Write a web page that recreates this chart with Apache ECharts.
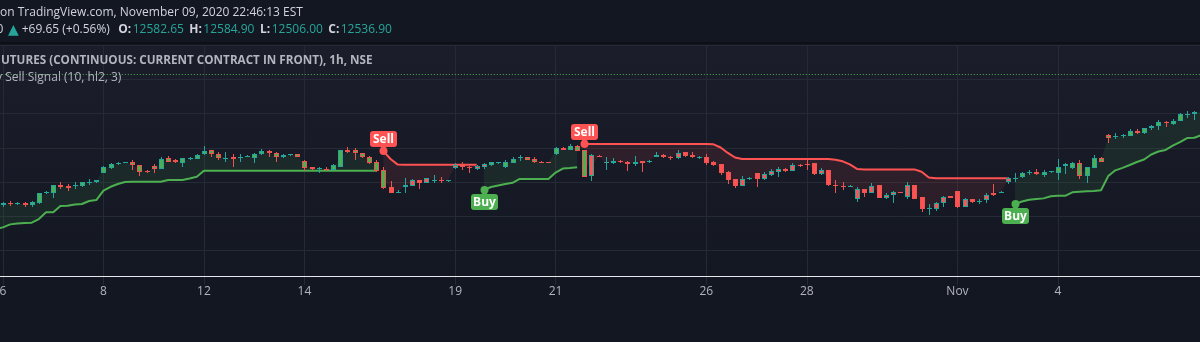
<!DOCTYPE html>
<html>
<head>
<meta charset="utf-8">
<title>NIFTY futures 1h – Buy Sell Signal</title>
<script src="https://cdn.jsdelivr.net/npm/echarts@6/dist/echarts.min.js"></script>
<style>
  html, body { margin: 0; padding: 0; background: #131722; }
  #chart { width: 1200px; height: 342px; }
</style>
</head>
<body>
<div id="chart"></div>
<script>
// ---------------------------------------------------------------------------
// Data
// ---------------------------------------------------------------------------
const _ = null;

const sessionHours = ['09:15', '10:15', '11:15', '12:15', '13:15', '14:15', '15:15'];
const openingBar = '2020-10-05 15:15';
const tradingDays = [
  '2020-10-06', '2020-10-07', '2020-10-08', '2020-10-09',
  '2020-10-12', '2020-10-13', '2020-10-14', '2020-10-15', '2020-10-16',
  '2020-10-19', '2020-10-20', '2020-10-21', '2020-10-22', '2020-10-23',
  '2020-10-26', '2020-10-27', '2020-10-28', '2020-10-29', '2020-10-30',
  '2020-11-02', '2020-11-03', '2020-11-04', '2020-11-05', '2020-11-06'
];

// Day labels shown on the time axis
const dayTickLabels = {
  '2020-10-06': '6', '2020-10-08': '8', '2020-10-12': '12', '2020-10-14': '14',
  '2020-10-19': '19', '2020-10-21': '21', '2020-10-26': '26', '2020-10-28': '28',
  '2020-11-02': 'Nov', '2020-11-04': '4'
};

// Hourly bars: [open, high, low, close]
const ohlc = [
  [11575, 11597, 11568, 11590],
  // Oct 6
  [11580, 11608, 11568, 11599], [11597, 11612, 11575, 11590], [11589, 11604, 11579, 11596],
  [11599, 11604, 11568, 11580], [11580, 11615, 11571, 11604], [11595, 11670, 11593, 11668],
  [11668, 11685, 11663, 11675],
  // Oct 7
  [11672, 11732, 11636, 11729], [11732, 11751, 11699, 11714], [11721, 11736, 11688, 11707],
  [11718, 11751, 11703, 11732], [11725, 11754, 11714, 11748], [11747, 11776, 11729, 11754],
  [11751, 11769, 11743, 11762],
  // Oct 8
  [11819, 11868, 11816, 11862], [11855, 11890, 11849, 11882], [11884, 11897, 11875, 11891],
  [11890, 11900, 11886, 11897], [11897, 11915, 11842, 11873], [11873, 11875, 11791, 11826],
  [11833, 11838, 11820, 11827],
  // Oct 9
  [11868, 11879, 11813, 11848], [11848, 11930, 11846, 11917], [11924, 11941, 11897, 11899],
  [11908, 11919, 11886, 11897], [11892, 11926, 11864, 11924], [11917, 11933, 11911, 11925],
  [11921, 11952, 11919, 11948],
  // Oct 12
  [11953, 12014, 11951, 11979], [11982, 11985, 11931, 11953], [11953, 11968, 11911, 11924],
  [11920, 11970, 11899, 11927], [11930, 11953, 11862, 11922], [11926, 11953, 11897, 11933],
  [11935, 11948, 11930, 11942],
  // Oct 13
  [11924, 11966, 11887, 11955], [11953, 11992, 11951, 11977], [11975, 11981, 11935, 11960],
  [11960, 11970, 11899, 11931], [11931, 11955, 11926, 11948], [11948, 11958, 11944, 11955],
  [11955, 11958, 11933, 11935],
  // Oct 14
  [11904, 11915, 11833, 11855], [11857, 11864, 11842, 11849], [11844, 11862, 11814, 11852],
  [11849, 11860, 11831, 11840], [11838, 11879, 11835, 11873], [11862, 11988, 11860, 11985],
  [11985, 12003, 11963, 11970],
  // Oct 15
  [11985, 11997, 11911, 11960], [11960, 11966, 11928, 11931], [11935, 11941, 11882, 11887],
  [11897, 11908, 11827, 11833], [11838, 11860, 11696, 11710], [11712, 11758, 11667, 11668],
  [11674, 11692, 11670, 11680],
  // Oct 16
  [11712, 11778, 11668, 11729], [11723, 11772, 11718, 11765], [11765, 11769, 11697, 11745],
  [11745, 11783, 11740, 11778], [11762, 11802, 11741, 11769], [11769, 11785, 11745, 11762],
  [11758, 11769, 11754, 11763],
  // Oct 19
  [11851, 11893, 11846, 11875], [11875, 11899, 11838, 11859], [11862, 11868, 11819, 11851],
  [11848, 11875, 11838, 11868], [11862, 11886, 11846, 11880], [11875, 11897, 11871, 11895],
  [11888, 11900, 11884, 11896],
  // Oct 20
  [11859, 11911, 11855, 11895], [11887, 11930, 11886, 11917], [11925, 11948, 11906, 11932],
  [11931, 11933, 11908, 11911], [11917, 11930, 11893, 11897], [11900, 11906, 11890, 11893],
  [11899, 11900, 11890, 11893],
  // Oct 21
  [11953, 12004, 11951, 11997], [11997, 12003, 11981, 11988], [11985, 12025, 11981, 12014],
  [12014, 12021, 11977, 11979], [11985, 11988, 11787, 11789], [11794, 11958, 11758, 11948],
  [11944, 11948, 11930, 11933],
  // Oct 22
  [11893, 11930, 11838, 11896], [11893, 11926, 11882, 11904], [11903, 11911, 11886, 11896],
  [11896, 11904, 11831, 11882], [11882, 11941, 11868, 11896], [11903, 11904, 11824, 11893],
  [11897, 11911, 11893, 11904],
  // Oct 23
  [11931, 11970, 11930, 11948], [11950, 11958, 11926, 11931], [11935, 11944, 11911, 11926],
  [11924, 11981, 11922, 11965], [11970, 11972, 11933, 11941], [11950, 11970, 11926, 11931],
  [11927, 11941, 11922, 11933],
  // Oct 26
  [11935, 11955, 11877, 11892], [11899, 11904, 11868, 11873], [11882, 11884, 11805, 11819],
  [11826, 11833, 11736, 11765], [11771, 11772, 11710, 11721], [11723, 11794, 11718, 11771],
  [11774, 11787, 11769, 11781],
  // Oct 27
  [11814, 11816, 11714, 11775], [11775, 11824, 11765, 11809], [11804, 11846, 11798, 11831],
  [11824, 11860, 11787, 11846], [11848, 11853, 11824, 11833], [11833, 11893, 11831, 11875],
  [11876, 11879, 11864, 11869],
  // Oct 28
  [11880, 11911, 11842, 11873], [11887, 11890, 11805, 11809], [11809, 11853, 11802, 11838],
  [11838, 11842, 11718, 11729], [11732, 11765, 11672, 11725], [11725, 11751, 11692, 11718],
  [11718, 11729, 11714, 11725],
  // Oct 29
  [11626, 11714, 11602, 11699], [11699, 11703, 11643, 11672], [11672, 11743, 11667, 11721],
  [11729, 11732, 11633, 11636], [11636, 11667, 11623, 11656], [11656, 11688, 11597, 11680],
  [11675, 11680, 11667, 11668],
  // Oct 30
  [11643, 11748, 11629, 11729], [11729, 11732, 11623, 11626], [11639, 11641, 11531, 11553],
  [11555, 11587, 11511, 11562], [11553, 11607, 11541, 11595], [11595, 11645, 11568, 11639],
  [11645, 11649, 11633, 11637],
  // Nov 2
  [11685, 11688, 11561, 11568], [11570, 11633, 11568, 11626], [11626, 11630, 11599, 11602],
  [11608, 11630, 11590, 11615], [11619, 11668, 11595, 11656], [11668, 11736, 11651, 11654],
  [11670, 11685, 11667, 11677],
  // Nov 3
  [11748, 11787, 11736, 11778], [11774, 11819, 11753, 11781], [11785, 11824, 11780, 11814],
  [11818, 11838, 11802, 11826], [11826, 11843, 11805, 11809], [11802, 11838, 11785, 11826],
  [11822, 11831, 11820, 11830],
  // Nov 4
  [11819, 11917, 11765, 11862], [11871, 11890, 11809, 11879], [11853, 11899, 11849, 11892],
  [11892, 11910, 11775, 11794], [11794, 11860, 11741, 11859], [11855, 11948, 11853, 11924],
  [11928, 11931, 11897, 11899],
  // Nov 5
  [12094, 12098, 12034, 12074], [12078, 12109, 12067, 12085], [12085, 12101, 12072, 12093],
  [12089, 12136, 12087, 12123], [12123, 12138, 12101, 12107], [12107, 12145, 12101, 12143],
  [12143, 12167, 12134, 12160],
  // Nov 6
  [12162, 12204, 12131, 12187], [12189, 12197, 12150, 12182], [12175, 12211, 12171, 12199],
  [12199, 12257, 12197, 12248], [12244, 12272, 12218, 12251], [12251, 12270, 12204, 12259],
  [12259, 12292, 12248, 12277]
];

// SuperTrend (10, hl2, 3): support line while the trend is up
const upLine = [
  11407,
  11419, 11441, 11447, 11451, 11453, 11480, 11529,   // Oct 6
  11529, 11575, 11577, 11586, 11590, 11612, 11619,   // Oct 7
  11687, 11716, 11736, 11751, 11753, 11753, 11753,   // Oct 8
  11753, 11753, 11765, 11765, 11765, 11776, 11789,   // Oct 9
  11833, 11833, 11833, 11833, 11833, 11833, 11833,   // Oct 12
  11833, 11833, 11833, 11833, 11833, 11833, 11833,   // Oct 13
  11833, 11833, 11833, 11833, 11833, 11833, 11833,   // Oct 14
  11833, 11833, 11833, 11833, _, _, _,               // Oct 15
  _, _, _, _, _, _, _,                               // Oct 16
  _, _, _, _, 11692, 11714, 11725,                   // Oct 19
  11736, 11745, 11773, 11773, 11773, 11773, 11773,   // Oct 20
  11820, 11849, 11853, 11858, _, _, _,               // Oct 21
  _, _, _, _, _, _, _,                               // Oct 22
  _, _, _, _, _, _, _,                               // Oct 23
  _, _, _, _, _, _, _,                               // Oct 26
  _, _, _, _, _, _, _,                               // Oct 27
  _, _, _, _, _, _, _,                               // Oct 28
  _, _, _, _, _, _, _,                               // Oct 29
  _, _, _, _, _, _, _,                               // Oct 30
  _, _, _, _, _, _, _,                               // Nov 2
  _, 11590, 11608, 11621, 11626, 11631, 11646,       // Nov 3
  11650, 11650, 11675, 11679, 11683, 11685, 11691,   // Nov 4
  11794, 11836, 11854, 11875, 11897, 11915, 11952,   // Nov 5
  11974, 11985, 12016, 12043, 12072, 12074, 12094    // Nov 6
];

// SuperTrend resistance line while the trend is down
const downLine = [
  _,
  _, _, _, _, _, _, _,                               // Oct 6
  _, _, _, _, _, _, _,                               // Oct 7
  _, _, _, _, _, _, _,                               // Oct 8
  _, _, _, _, _, _, _,                               // Oct 9
  _, _, _, _, _, _, _,                               // Oct 12
  _, _, _, _, _, _, _,                               // Oct 13
  _, _, _, _, _, _, _,                               // Oct 14
  _, _, _, _, 11977, 11919, 11878,                   // Oct 15
  11876, 11876, 11876, 11876, 11876, 11876, 11876,   // Oct 16
  11876, 11876, 11876, 11876, _, _, _,               // Oct 19
  _, _, _, _, _, _, _,                               // Oct 20
  _, _, _, _, 12028, 12028, 12028,                   // Oct 21
  12028, 12028, 12028, 12028, 12028, 12028, 12028,   // Oct 22
  12028, 12028, 12028, 12028, 12028, 12028, 12028,   // Oct 23
  12028, 12026, 12003, 11963, 11930, 11919, 11919,   // Oct 26
  11919, 11919, 11919, 11919, 11919, 11919, 11919,   // Oct 27
  11919, 11919, 11919, 11919, 11914, 11902, 11879,   // Oct 28
  11846, 11843, 11843, 11843, 11843, 11843, 11843,   // Oct 29
  11843, 11843, 11826, 11783, 11778, 11778, 11778,   // Oct 30
  11778, 11778, 11778, 11778, 11778, 11778, 11778,   // Nov 2
  11778, _, _, _, _, _, _,                           // Nov 3
  _, _, _, _, _, _, _,                               // Nov 4
  _, _, _, _, _, _, _,                               // Nov 5
  _, _, _, _, _, _, _                                // Nov 6
];

const buySignals = ['2020-10-19 13:15', '2020-11-03 10:15'];
const sellSignals = ['2020-10-15 13:15', '2020-10-21 13:15'];

// Last session quote shown in the header (Nov 9, 15:15 bar)
const quote = { change: 69.65, changePct: 0.56, open: 12582.65, high: 12584.90, low: 12506.00, close: 12536.90 };

// ---------------------------------------------------------------------------
// Derived structures
// ---------------------------------------------------------------------------
const categories = [openingBar];
tradingDays.forEach(d => sessionHours.forEach(h => categories.push(d + ' ' + h)));

const tickText = {};
Object.keys(dayTickLabels).forEach(d => {
  tickText[categories.indexOf(d + ' ' + sessionHours[0])] = dayTickLabels[d];
});

const ohlc4 = ohlc.map(b => (b[0] + b[1] + b[2] + b[3]) / 4);
const isUpTrend = k => upLine[k] != null;

function segmentsOf(line) {
  const out = [];
  let start = -1;
  for (let k = 0; k <= line.length; k++) {
    const v = k < line.length ? line[k] : null;
    if (v != null && start < 0) start = k;
    if (v == null && start >= 0) { out.push([start, k - 1]); start = -1; }
  }
  return out;
}
const fillSegments = []
  .concat(segmentsOf(upLine).map(s => [s[0], s[1], 1]))
  .concat(segmentsOf(downLine).map(s => [s[0], s[1], 0]));

const signalPoints = []
  .concat(buySignals.map(t => { const k = categories.indexOf(t); return [k, upLine[k], 1]; }))
  .concat(sellSignals.map(t => { const k = categories.indexOf(t); return [k, downLine[k], 0]; }));

// ---------------------------------------------------------------------------
// Styling
// ---------------------------------------------------------------------------
const C = {
  bg: '#131722',
  grid: '#262a36',
  text: '#d1d4dc',
  muted: '#b2b5be',
  teal: '#26a69a',
  red: '#ef5350',
  green: '#4caf50',
  signalRed: '#ff5252'
};
const FONT = '"Open Sans", "Noto Sans", sans-serif';

function headerText(x, y, text, fill, weight, family, size) {
  return {
    type: 'text', z: 100, x: x, y: y,
    style: {
      text: text, fill: fill,
      font: (weight || 'normal') + ' ' + (size || 12) + 'px ' + (family || FONT),
      verticalAlign: 'middle', textVerticalAlign: 'middle'
    }
  };
}

const chart = echarts.init(document.getElementById('chart'), null, { renderer: 'canvas' });

const option = {
  animation: false,
  backgroundColor: C.bg,
  grid: {
    left: -4.18, right: -1.5, top: 45.3, bottom: 57.3,
    containLabel: false, outerBoundsMode: 'none',
    show: true, borderWidth: 0,
    backgroundColor: new echarts.graphic.LinearGradient(0, 0, 0, 1, [
      { offset: 0, color: '#1b1e2a' }, { offset: 1, color: '#131722' }
    ])
  },
  xAxis: {
    type: 'category',
    data: categories,
    boundaryGap: false,
    axisLine: { show: false },
    axisTick: { show: false },
    axisLabel: {
      interval: idx => tickText[idx] !== undefined,
      formatter: (val, idx) => tickText[idx] || '',
      color: C.muted, fontSize: 12, fontFamily: FONT, margin: 1
    },
    splitLine: {
      show: true,
      interval: idx => tickText[idx] !== undefined,
      lineStyle: { color: C.grid, width: 1 }
    }
  },
  yAxis: {
    type: 'value',
    min: 11000, max: 12750, interval: 250,
    axisLine: { show: false },
    axisTick: { show: false },
    axisLabel: { show: false },
    splitLine: { show: true, showMinLine: false, lineStyle: { color: C.grid, width: 1 } }
  },
  graphic: [
    { type: 'rect', z: 100, shape: { x: 0, y: 42, width: 1200, height: 2 }, style: { fill: '#0d0f15' } },
    { type: 'rect', z: 100, shape: { x: 0, y: 276, width: 1200, height: 1 }, style: { fill: '#e6e8ee' } },
    headerText(0, 12.5, 'on TradingView.com, November 09, 2020 22:46:13 EST', C.text),
    headerText(-3.6, 30, '0', C.text),
    headerText(8, 30, '▲', C.teal, 'normal', '"DejaVu Sans"', 14),
    headerText(21.7, 30, '+' + quote.change.toFixed(2) + ' (+' + quote.changePct.toFixed(2) + '%)', C.text),
    headerText(118.3, 30, 'O:', C.text, 'bold'),
    headerText(132.7, 30, quote.open.toFixed(2), C.teal),
    headerText(189.3, 30, 'H:', C.text, 'bold'),
    headerText(203.3, 30, quote.high.toFixed(2), C.teal),
    headerText(260, 30, 'L:', C.text, 'bold'),
    headerText(271.7, 30, quote.low.toFixed(2), C.teal),
    headerText(328.3, 30, 'C:', C.text, 'bold'),
    headerText(340.7, 30, quote.close.toFixed(2), C.teal),
    {
      type: 'text', z: 100, x: 1, y: 60.5,
      style: {
        text: 'UTURES (CONTINUOUS: CURRENT CONTRACT IN FRONT), 1h, NSE', fill: C.muted,
        font: 'bold 11.7px ' + FONT, verticalAlign: 'middle', textVerticalAlign: 'middle'
      }
    },
    {
      type: 'text', z: 100, x: -19, y: 77.5,
      style: {
        text: 'Buy Sell Signal (10, hl2, 3)', fill: C.muted,
        font: '12px ' + FONT, verticalAlign: 'middle', textVerticalAlign: 'middle'
      }
    }
  ],
  series: [
    // Shaded band between the SuperTrend line and the bar midpoints
    {
      type: 'custom',
      z: 1,
      silent: true,
      data: fillSegments,
      encode: { x: [0, 1] },
      renderItem: (params, api) => {
        const s = api.value(0), e = api.value(1), up = api.value(2) === 1;
        const line = up ? upLine : downLine;
        const pts = [];
        for (let k = s; k <= e; k++) pts.push(api.coord([k, line[k]]));
        for (let k = e; k >= s; k--) pts.push(api.coord([k, ohlc4[k]]));
        return {
          type: 'polygon',
          shape: { points: pts },
          style: { fill: up ? 'rgba(76,175,80,0.10)' : 'rgba(255,82,82,0.10)' }
        };
      }
    },
    {
      type: 'line',
      z: 2,
      data: upLine,
      showSymbol: false,
      symbol: 'none',
      connectNulls: false,
      lineStyle: { color: C.green, width: 2 },
      silent: true,
      markLine: {
        silent: true,
        symbol: 'none',
        label: { show: false },
        lineStyle: { color: C.green, width: 1, type: [1, 2] },
        data: [{ yAxis: quote.close }]
      }
    },
    {
      type: 'line',
      z: 2,
      data: downLine,
      showSymbol: false,
      symbol: 'none',
      connectNulls: false,
      lineStyle: { color: C.signalRed, width: 2 },
      silent: true
    },
    // Candles: outline/wick by bar direction, body colour by the prevailing trend
    {
      type: 'custom',
      z: 3,
      silent: true,
      data: ohlc.map((b, k) => [k, b[0], b[1], b[2], b[3]]),
      encode: { x: 0, y: [1, 2, 3, 4] },
      renderItem: (params, api) => {
        const k = api.value(0);
        const o = api.value(1), h = api.value(2), l = api.value(3), c = api.value(4);
        const po = api.coord([k, o]), pc = api.coord([k, c]);
        const ph = api.coord([k, h]), pl = api.coord([k, l]);
        const cx = Math.round(po[0]);
        const edge = c >= o ? C.teal : C.red;
        const body = isUpTrend(Math.max(0, k - 1)) ? C.green : C.signalRed;
        let top = Math.round(Math.min(po[1], pc[1]));
        let bot = Math.round(Math.max(po[1], pc[1]));
        if (bot - top < 1) bot = top + 1;
        const yh = Math.round(ph[1]), yl = Math.round(pl[1]);
        const children = [
          { type: 'rect', shape: { x: cx, y: yh, width: 1, height: Math.max(1, yl - yh) }, style: { fill: edge } },
          { type: 'rect', shape: { x: cx - 2, y: top, width: 5, height: bot - top }, style: { fill: edge } }
        ];
        if (bot - top > 2) {
          children.push({ type: 'rect', shape: { x: cx - 1, y: top + 1, width: 3, height: bot - top - 2 }, style: { fill: body } });
        }
        return { type: 'group', children };
      }
    },
    // Buy / Sell markers
    {
      type: 'custom',
      z: 4,
      silent: true,
      data: signalPoints,
      encode: { x: 0, y: 1 },
      renderItem: (params, api) => {
        const p = api.coord([api.value(0), api.value(1)]);
        const buy = api.value(2) === 1;
        const col = buy ? C.green : C.signalRed;
        const x = Math.round(p[0]) + 0.5, y = Math.round(p[1]);
        const boxH = 16, boxW = 27, gap = 4;
        const boxY = buy ? y + gap : y - gap - boxH;
        const tip = buy
          ? [[x - 3.5, boxY + 0.5], [x + 3.5, boxY + 0.5], [x, boxY - 3]]
          : [[x - 3.5, boxY + boxH - 0.5], [x + 3.5, boxY + boxH - 0.5], [x, boxY + boxH + 3]];
        return {
          type: 'group',
          children: [
            { type: 'circle', shape: { cx: x, cy: y, r: 4 }, style: { fill: col } },
            { type: 'polygon', shape: { points: tip }, style: { fill: col } },
            { type: 'rect', shape: { x: x - boxW / 2, y: boxY, width: boxW, height: boxH, r: 3 }, style: { fill: col } },
            {
              type: 'text',
              style: {
                text: buy ? 'Buy' : 'Sell',
                x: x, y: boxY + boxH / 2 + 0.5,
                fill: '#ffffff',
                font: 'bold 12px ' + FONT,
                align: 'center', verticalAlign: 'middle',
                textAlign: 'center', textVerticalAlign: 'middle'
              }
            }
          ]
        };
      }
    }
  ]
};

chart.setOption(option);
</script>
</body>
</html>
